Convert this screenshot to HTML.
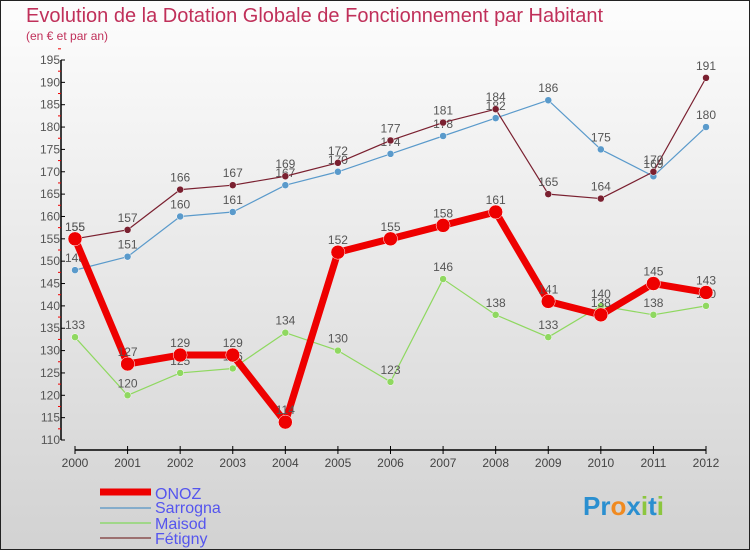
<!DOCTYPE html>
<html><head><meta charset="utf-8"><style>
body{margin:0}
svg{display:block;font-family:"Liberation Sans",sans-serif}
</style></head><body>
<svg width="750" height="550" xmlns="http://www.w3.org/2000/svg">
<defs><linearGradient id="bg" x1="0" y1="0" x2="0" y2="1"><stop offset="0" stop-color="#fdfdfd"/><stop offset="1" stop-color="#d2d2d2"/></linearGradient></defs>
<rect x="0.5" y="0.5" width="749" height="549" fill="url(#bg)" stroke="#222"/>
<text x="26" y="22" font-size="20" fill="#c0305a">Evolution de la Dotation Globale de Fonctionnement par Habitant</text>
<text x="26" y="40" font-size="12" fill="#c0305a">(en € et par an)</text>
<g id="axes"></g>
<g id="series"></g>
<g>
<line x1="100" y1="492" x2="151" y2="492" stroke="#e00" stroke-width="7"/>
<text x="155" y="499" font-size="16" fill="#5555ee">ONOZ</text>
<line x1="100" y1="508" x2="151" y2="508" stroke="#6a9fc8" stroke-width="1.5"/>
<text x="155" y="513" font-size="16" fill="#5555ee">Sarrogna</text>
<line x1="100" y1="523" x2="151" y2="523" stroke="#8fd870" stroke-width="1.5"/>
<text x="155" y="529" font-size="16" fill="#5555ee">Maisod</text>
<line x1="100" y1="538" x2="151" y2="538" stroke="#8a5050" stroke-width="1.5"/>
<text x="155" y="544" font-size="16" fill="#5555ee">Fétigny</text>
</g>
<text x="583" y="515" font-size="26" font-weight="bold"><tspan fill="#2a8fd0">Pr</tspan><tspan fill="#f08a20">o</tspan><tspan fill="#2a8fd0">x</tspan><tspan fill="#8cc63f">i</tspan><tspan fill="#2a8fd0">t</tspan><tspan fill="#8cc63f">i</tspan></text>
</svg>
<script>
const years=[2000,2001,2002,2003,2004,2005,2006,2007,2008,2009,2010,2011,2012];
const onoz=[155,127,129,129,114,152,155,158,161,141,138,145,143];
const sarrogna=[148,151,160,161,167,170,174,178,182,186,175,169,180];
const maisod=[133,120,125,126,134,130,123,146,138,133,140,138,140];
const fetigny=[155,157,166,167,169,172,177,181,184,165,164,170,191];
const yTicks=[110,115,120,125,130,135,140,145,150,155,160,165,170,175,180,185,190,195];
const NS="http://www.w3.org/2000/svg";
const X=i=>75+i*(706-75)/(years.length-1);
const Y=v=>440-(v-110)*(380/85);
function mk(t,a,p){const e=document.createElementNS(NS,t);for(const k in a)e.setAttribute(k,a[k]);p.appendChild(e);return e;}
const ax=document.getElementById('axes');
const yl=mk('line',{x1:61,y1:Y(195),x2:61,y2:Y(110),stroke:'#000','stroke-width':1.5},ax);


yTicks.forEach(v=>{
 mk('line',{x1:61,y1:Y(v),x2:65,y2:Y(v),stroke:'#000'},ax);
 mk('line',{x1:58,y1:Y(v+2.5),x2:61,y2:Y(v+2.5),stroke:'#e00'},ax);
 const t=mk('text',{x:60,y:Y(v)+4,'font-size':12,fill:'#555','text-anchor':'end'},ax);t.textContent=v;
 
 
});
const xl=mk('line',{x1:X(0),y1:450,x2:X(12),y2:450,stroke:'#000','stroke-width':1.5},ax);


years.forEach((y,i)=>{
 mk('line',{x1:X(i),y1:446,x2:X(i),y2:454,stroke:'#000'},ax);
 const t=mk('text',{x:X(i),y:467,'font-size':12,fill:'#444','text-anchor':'middle'},ax);t.textContent=y;
 
 
});
const sg=document.getElementById('series');
function series(name,vals,color,w,r){
 const g=mk('g',{},sg);
 
 
 const p=mk('polyline',{points:vals.map((v,i)=>X(i)+','+Y(v)).join(' '),fill:'none',stroke:color,'stroke-width':w,'stroke-linejoin':'round'},g);
 
 
 vals.forEach((v,i)=>{
  const c=mk('circle',{cx:X(i),cy:Y(v),r:r,fill:color,stroke:'#fff','stroke-width':0.5},g);
  
  
  const t=mk('text',{x:X(i),y:Y(v)-8,'font-size':12,fill:'#555','text-anchor':'middle'},g);t.textContent=v;
  
  
 });
}
series('maisod',maisod,'#8fd860',1.2,3.5);
series('sarrogna',sarrogna,'#5a9acb',1.2,3.5);
series('fetigny',fetigny,'#7a2030',1.2,3.5);
series('onoz',onoz,'#ee0000',7,7);
</script>
</body></html>
